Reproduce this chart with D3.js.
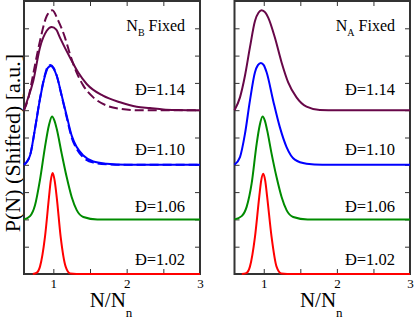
<!DOCTYPE html>
<html>
<head>
<meta charset="utf-8">
<script src="https://cdnjs.cloudflare.com/ajax/libs/d3/7.8.5/d3.min.js"></script>
<style>
body { margin: 0; background: #fff; }
svg text { font-family: "Liberation Serif", "Times New Roman", serif; fill: #000; }
.axis path.domain { display: none; }
.axis line { stroke: #333; stroke-width: 1; }
</style>
</head>
<body>
<div id="chart"></div>
<script>
// dispersity labels, one per curve, bottom to top
var dispersity = ['Đ=1.02', 'Đ=1.06', 'Đ=1.10', 'Đ=1.14'];
// vertical shift of each curve (a.u.)
var shifts = [0, 2, 4, 6];
var xTicks = [1, 1.5, 2, 2.5, 3];
var xTickLabels = ['1', '', '2', '', '3'];

// N_B fixed, solid curves (N/Nn, P)
var nbRedX = [0.72, 0.77, 0.818, 0.886, 0.941, 0.965, 0.991, 1.018, 1.046, 1.10, 1.168, 1.23, 1.4, 3.0];
var nbRedY = [0, 0.04, 0.27, 1.36, 2.82, 3.42, 3.70, 3.42, 2.82, 1.36, 0.27, 0.02, 0, 0];
var nbGreenX = [0.6, 0.682, 0.75, 0.818, 0.886, 0.94, 0.982, 1.015, 1.046, 1.114, 1.182, 1.25, 1.319, 1.409, 1.6, 3.0];
var nbGreenY = [0, 0.12, 0.52, 1.45, 2.65, 3.45, 3.77, 3.62, 3.32, 2.41, 1.55, 0.82, 0.34, 0.09, 0, 0];
var nbBlueX = [0.6, 0.682, 0.75, 0.818, 0.886, 0.925, 0.964, 1.005, 1.046, 1.114, 1.182, 1.25, 1.319, 1.409, 1.545, 1.727, 2.0, 3.0];
var nbBlueY = [0, 0.34, 1.32, 2.41, 3.26, 3.55, 3.62, 3.52, 3.26, 2.54, 1.80, 1.07, 0.65, 0.34, 0.12, 0.04, 0, 0];
var nbMaroonX = [0.6, 0.636, 0.727, 0.818, 0.91, 0.978, 1.04, 1.09, 1.227, 1.34, 1.455, 1.677, 1.91, 2.137, 2.318, 2.5, 2.7, 3.0];
var nbMaroonY = [0, 0.29, 1.08, 2.30, 2.91, 3.05, 2.95, 2.66, 1.93, 1.38, 0.96, 0.53, 0.29, 0.13, 0.08, 0.03, 0.01, 0];

// N_B fixed, dashed curves
var dashBlueX = [0.6, 0.682, 0.75, 0.818, 0.886, 0.925, 0.964, 1.005, 1.046, 1.114, 1.182, 1.25, 1.319, 1.409, 1.545, 1.727, 2.0, 3.0];
var dashBlueY = [0, 0.34, 1.32, 2.43, 3.30, 3.60, 3.66, 3.55, 3.27, 2.52, 1.74, 1.00, 0.58, 0.27, 0.08, 0.02, 0, 0];
var dashMaroonX = [0.6, 0.66, 0.727, 0.818, 0.91, 0.986, 1.068, 1.159, 1.227, 1.318, 1.409, 1.545, 1.727, 1.909, 2.137, 3.0];
var dashMaroonY = [0, 0.45, 1.34, 2.54, 3.45, 3.66, 3.27, 2.66, 2.05, 1.38, 0.90, 0.47, 0.17, 0.05, 0, 0];

// N_A fixed (N/Nn, P)
var naRedX = [0.7, 0.76, 0.811, 0.88, 0.938, 0.965, 0.993, 1.02, 1.047, 1.107, 1.175, 1.24, 1.4, 3.0];
var naRedY = [0, 0.03, 0.27, 1.36, 2.82, 3.42, 3.67, 3.42, 2.82, 1.36, 0.27, 0.02, 0, 0];
var naGreenX = [0.6, 0.698, 0.766, 0.834, 0.903, 0.945, 0.984, 1.015, 1.047, 1.107, 1.175, 1.244, 1.312, 1.402, 1.6, 3.0];
var naGreenY = [0, 0.12, 0.46, 1.31, 2.77, 3.45, 3.77, 3.62, 3.26, 2.41, 1.55, 0.82, 0.34, 0.09, 0, 0];
var naBlueX = [0.6, 0.675, 0.743, 0.811, 0.88, 0.92, 0.961, 1.0, 1.039, 1.129, 1.22, 1.312, 1.425, 1.585, 1.8, 3.0];
var naBlueY = [0, 0.28, 1.13, 2.35, 3.39, 3.65, 3.73, 3.65, 3.39, 2.35, 1.38, 0.65, 0.19, 0.04, 0, 0];
var naMaroonX = [0.6, 0.675, 0.743, 0.811, 0.88, 0.93, 0.971, 1.02, 1.061, 1.152, 1.244, 1.334, 1.448, 1.585, 1.766, 2.0, 3.0];
var naMaroonY = [0, 0.47, 1.26, 2.30, 3.27, 3.58, 3.66, 3.58, 3.39, 2.66, 1.75, 1.02, 0.47, 0.13, 0.01, 0, 0];

var colors = ['#ff0000', '#008b00', '#0000ff', '#670748'];

var svg, y, panels, line, tickLen = 5;

svg = d3.select('#chart')
	.append('svg')
	.attr('width', 415)
	.attr('height', 318);

y = d3.scaleLinear().domain([0, 10]).range([274, 1]);

panels = [
	{ left: 24, right: 200, title: 'B',
		solid: [[nbRedX, nbRedY], [nbGreenX, nbGreenY], [nbBlueX, nbBlueY], [nbMaroonX, nbMaroonY]],
		dashed: [[dashBlueX, dashBlueY, 2], [dashMaroonX, dashMaroonY, 3]] },
	{ left: 234.5, right: 410, title: 'A',
		solid: [[naRedX, naRedY], [naGreenX, naGreenY], [naBlueX, naBlueY], [naMaroonX, naMaroonY]],
		dashed: [] }
];

// baseline of each dispersity label, pixels
var labelBase = [265, 212, 155, 95];

//y axis title
svg.append('text')
	.attr('transform', 'translate(19.5,143) rotate(-90)')
	.attr('text-anchor', 'middle')
	.attr('font-size', 22)
	.text('P(N) (Shifted) [a.u.]');

panels.forEach(function (p) {

	var x, g, xlab, ttl;

	x = d3.scaleLinear().domain([0.6, 3]).range([p.left, p.right]);

	g = svg.append('g');

	//ticks, all pointing inward
	g.append('g').attr('class', 'axis')
		.attr('transform', 'translate(0,274)')
		.call(d3.axisBottom(x).tickValues(xTicks).tickSize(-tickLen).tickPadding(5)
			.tickFormat(function (d, i) { return xTickLabels[i]; }))
		.selectAll('text').attr('font-size', 13).attr('font-family', '"Liberation Serif", serif');

	g.append('g').attr('class', 'axis')
		.attr('transform', 'translate(0,' + y(10) + ')')
		.call(d3.axisTop(x).tickValues(xTicks).tickSize(-tickLen).tickFormat(''));

	g.append('g').attr('class', 'axis')
		.attr('transform', 'translate(' + p.left + ',0)')
		.call(d3.axisLeft(y).tickValues(d3.range(0, 11)).tickSize(-tickLen).tickFormat(''));

	g.append('g').attr('class', 'axis')
		.attr('transform', 'translate(' + p.right + ',0)')
		.call(d3.axisRight(y).tickValues(d3.range(0, 11)).tickSize(-tickLen).tickFormat(''));

	//frame
	g.append('rect')
		.attr('x', p.left)
		.attr('y', y(10))
		.attr('width', p.right - p.left)
		.attr('height', y(0) - y(10))
		.attr('fill', 'none')
		.attr('stroke', '#333')
		.attr('stroke-width', 2);

	line = d3.line()
		.x(function (d) { return x(d[0]); })
		.y(function (d) { return y(d[1]); })
		.curve(d3.curveMonotoneX);

	//solid curves
	p.solid.forEach(function (s, i) {
		g.append('path')
			.datum(d3.zip(s[0], s[1].map(function (v) { return v + shifts[i]; })))
			.attr('fill', 'none')
			.attr('stroke', colors[i])
			.attr('stroke-width', 2)
			.attr('d', line);
	});

	//dashed comparison curves
	p.dashed.forEach(function (s) {
		var i = s[2];
		g.append('path')
			.datum(d3.zip(s[0], s[1].map(function (v) { return v + shifts[i]; })))
			.attr('fill', 'none')
			.attr('stroke', colors[i])
			.attr('stroke-width', 2)
			.attr('stroke-dasharray', '9,4')
			.attr('d', line);
	});

	//dispersity labels
	dispersity.forEach(function (d, i) {
		g.append('text')
			.attr('x', p.right - 15)
			.attr('y', labelBase[i])
			.attr('text-anchor', 'end')
			.attr('font-size', 16.5)
			.text(d);
	});

	//panel title
	ttl = g.append('text')
		.attr('x', p.right - 15)
		.attr('y', 31)
		.attr('text-anchor', 'end')
		.attr('font-size', 16);
	ttl.append('tspan').text('N');
	ttl.append('tspan').attr('font-size', 10).attr('dy', 5).text(p.title);
	ttl.append('tspan').attr('dy', -5).text(' Fixed');

	//x axis title
	xlab = g.append('text')
		.attr('x', (p.left + p.right) / 2 - 1)
		.attr('y', 306.5)
		.attr('text-anchor', 'middle')
		.attr('font-size', 21);
	xlab.append('tspan').text('N/N');
	xlab.append('tspan').attr('font-size', 13).attr('dy', 10).text('n');
});
</script>
</body>
</html>
